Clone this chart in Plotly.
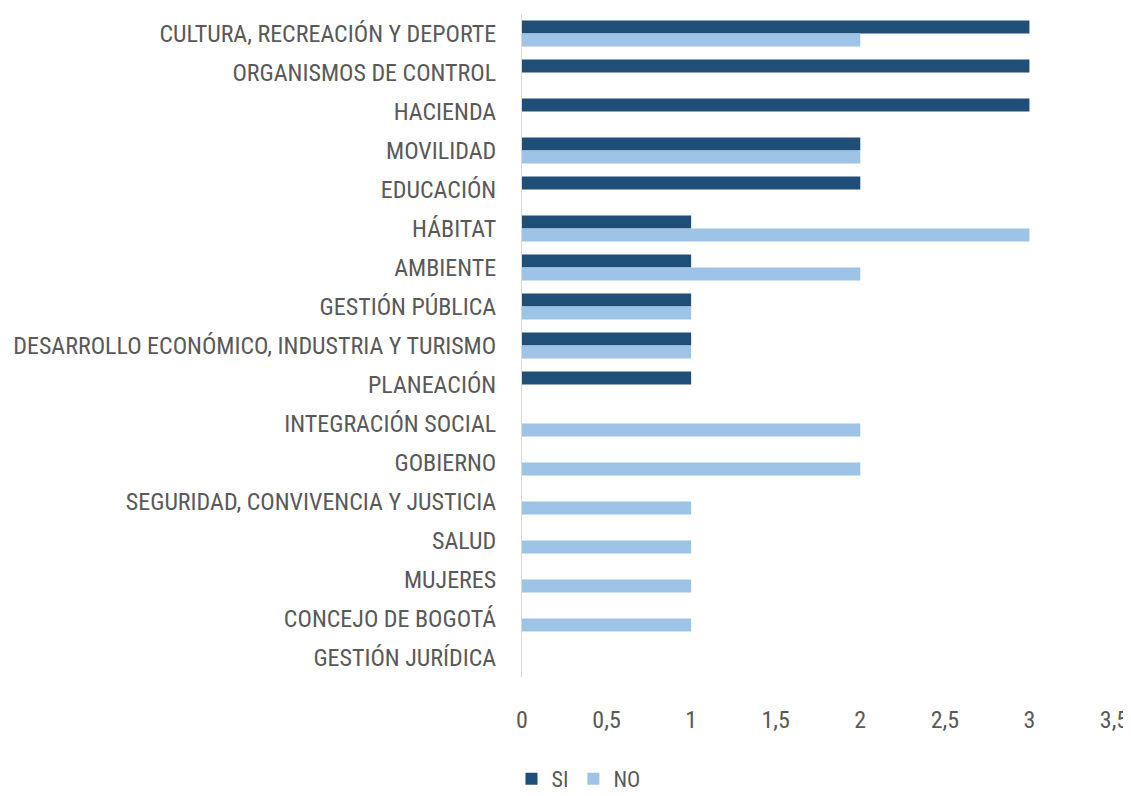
import plotly.graph_objects as go

categories = ["CULTURA, RECREACIÓN Y DEPORTE", "ORGANISMOS DE CONTROL", "HACIENDA", "MOVILIDAD",
              "EDUCACIÓN", "HÁBITAT", "AMBIENTE", "GESTIÓN PÚBLICA",
              "DESARROLLO ECONÓMICO, INDUSTRIA Y TURISMO", "PLANEACIÓN", "INTEGRACIÓN SOCIAL",
              "GOBIERNO", "SEGURIDAD, CONVIVENCIA Y JUSTICIA", "SALUD", "MUJERES",
              "CONCEJO DE BOGOTÁ", "GESTIÓN JURÍDICA"]
si_values = [3, 3, 3, 2, 2, 1, 1, 1, 1, 1, 0, 0, 0, 0, 0, 0, 0]
no_values = [2, 0, 0, 2, 0, 3, 2, 1, 1, 0, 2, 2, 1, 1, 1, 1, 0]
x_ticks = [0, 0.5, 1, 1.5, 2, 2.5, 3, 3.5]
x_tick_labels = ["0", "0,5", "1", "1,5", "2", "2,5", "3", "3,5"]

font_family = "Liberation Sans Narrow, Arial Narrow, Roboto Condensed, sans-serif"
text_color = "#595959"

fig = go.Figure()
fig.add_trace(go.Bar(y=categories, x=si_values, name="SI", orientation="h",
                     marker=dict(color="#1F4E79", line=dict(width=0))))
fig.add_trace(go.Bar(y=categories, x=no_values, name="NO", orientation="h",
                     marker=dict(color="#9DC3E6", line=dict(width=0))))

fig.update_layout(
    width=1123, height=792,
    barmode="group", bargap=0.33, bargroupgap=0,
    plot_bgcolor="white", paper_bgcolor="white",
    margin=dict(l=514, r=17, t=6, b=123),
    font=dict(family=font_family, size=24, color=text_color),
    legend=dict(orientation="h", xref="container", yref="container",
                x=0.508, y=0.0, xanchor="center", yanchor="bottom",
                font=dict(size=22, color=text_color), itemwidth=30,
                tracegroupgap=0, traceorder="normal"),
    showlegend=True,
)
fig.update_yaxes(autorange="reversed", showgrid=False, showline=True,
                 linecolor="#D9D9D9", linewidth=1, ticks="", automargin=False,
                 tickfont=dict(size=24, color=text_color), ticklabelstandoff=20)
fig.update_xaxes(range=[0, 3.5], tickvals=x_ticks, ticktext=x_tick_labels,
                 showgrid=False, showline=False, zeroline=False, ticks="", automargin=False,
                 tickfont=dict(size=24, color=text_color), ticklabelstandoff=26)

fig.write_html("out.html")
